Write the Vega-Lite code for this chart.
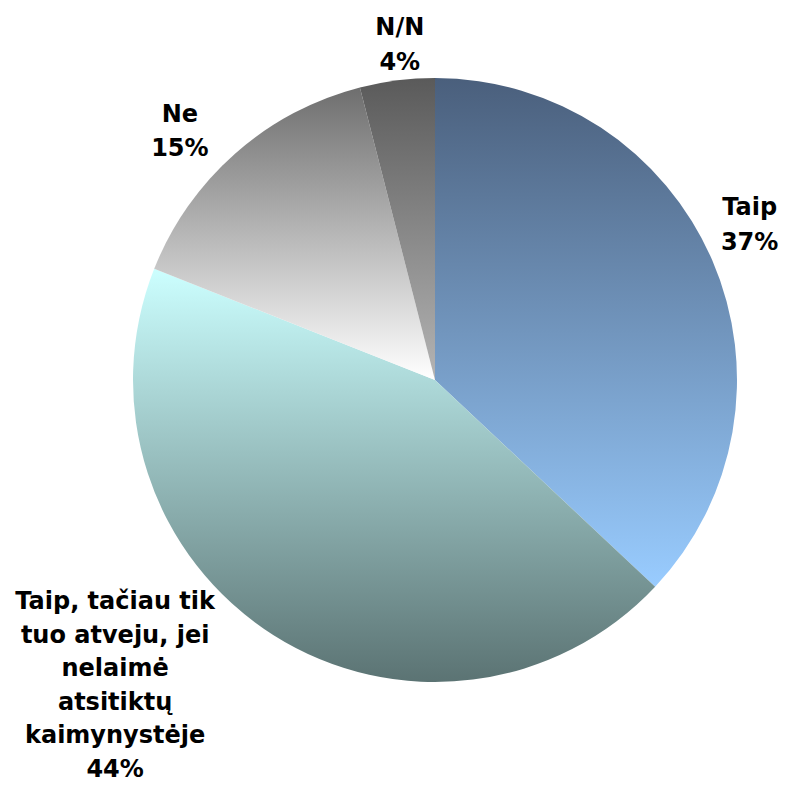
{
  "$schema": "https://vega.github.io/schema/vega-lite/v6.json",
  "autosize": {"type": "none"},
  "padding": {"left": 84, "top": 0, "right": 0, "bottom": 27},
  "width": 702,
  "height": 760,
  "background": "white",
  "config": {"view": {"stroke": null}},
  "data": {
    "values": [
      {"idx": 1, "cat": "Taip", "value": 37, "label": "Taip\n37%"},
      {"idx": 2, "cat": "Taip, tačiau tik tuo atveju, jei nelaimė atsitiktų kaimynystėje", "value": 44, "label": "Taip, tačiau tik\ntuo atveju, jei\nnelaimė\natsitiktų\nkaimynystėje\n44%"},
      {"idx": 3, "cat": "Ne", "value": 15, "label": "Ne\n15%"},
      {"idx": 4, "cat": "N/N", "value": 4, "label": "N/N\n4%"}
    ]
  },
  "encoding": {
    "theta": {"field": "value", "type": "quantitative", "stack": true},
    "order": {"field": "idx", "type": "quantitative"}
  },
  "layer": [
    {
      "mark": {"type": "arc", "outerRadius": 302},
      "encoding": {
        "fill": {
          "condition": [
            {"test": "datum.idx === 1", "value": {"gradient": "linear", "x1": 0, "y1": 0, "x2": 0, "y2": 1, "stops": [{"offset": 0, "color": "#4a5f7c"}, {"offset": 1, "color": "#99ccff"}]}},
            {"test": "datum.idx === 2", "value": {"gradient": "linear", "x1": 0, "y1": 0, "x2": 0, "y2": 1, "stops": [{"offset": 0, "color": "#ccffff"}, {"offset": 1, "color": "#5b7373"}]}},
            {"test": "datum.idx === 3", "value": {"gradient": "linear", "x1": 0, "y1": 0, "x2": 0, "y2": 1, "stops": [{"offset": 0, "color": "#6e6e6e"}, {"offset": 1, "color": "#ffffff"}]}}
          ],
          "value": {"gradient": "linear", "x1": 0, "y1": 0, "x2": 0, "y2": 1, "stops": [{"offset": 0, "color": "#5a5a5a"}, {"offset": 1, "color": "#b4b4b4"}]}
        }
      }
    },
    {
      "mark": {"type": "text", "radius": 345, "font": "DejaVu Sans", "fontWeight": "bold", "fontSize": 24, "lineHeight": 35, "lineBreak": "\n", "align": "center", "baseline": "middle", "color": "black", "dx": -2, "dy": -35},
      "encoding": {"text": {"condition": {"test": "datum.idx === 1", "field": "label"}, "value": ""}}
    },
    {
      "mark": {"type": "text", "radius": 345, "font": "DejaVu Sans", "fontWeight": "bold", "fontSize": 24, "lineHeight": 33.5, "lineBreak": "\n", "align": "center", "baseline": "middle", "color": "black", "dx": -135, "dy": -69},
      "encoding": {"text": {"condition": {"test": "datum.idx === 2", "field": "label"}, "value": ""}}
    },
    {
      "mark": {"type": "text", "radius": 345, "font": "DejaVu Sans", "fontWeight": "bold", "fontSize": 24, "lineHeight": 34, "lineBreak": "\n", "align": "center", "baseline": "middle", "color": "black", "dx": -27, "dy": -6},
      "encoding": {"text": {"condition": {"test": "datum.idx === 3", "field": "label"}, "value": ""}}
    },
    {
      "mark": {"type": "text", "radius": 345, "font": "DejaVu Sans", "fontWeight": "bold", "fontSize": 24, "lineHeight": 35, "lineBreak": "\n", "align": "center", "baseline": "middle", "color": "black", "dx": 8, "dy": -10},
      "encoding": {"text": {"condition": {"test": "datum.idx === 4", "field": "label"}, "value": ""}}
    }
  ]
}
